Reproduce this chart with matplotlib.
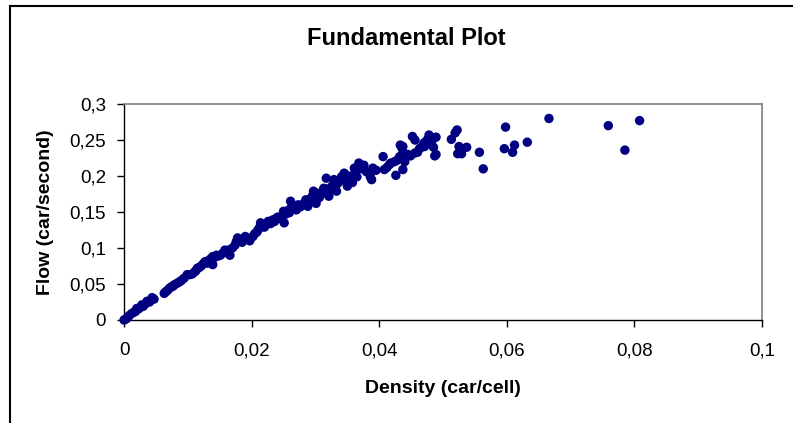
import matplotlib
matplotlib.use("Agg")
import matplotlib.pyplot as plt
from matplotlib.lines import Line2D

plt.rcParams['font.family'] = ['Liberation Sans', 'DejaVu Sans']

# density (car/cell), flow (car/second)
density = [
    0.0, 0.0002, 0.0004, 0.0006, 0.0008, 0.0012, 0.0016, 0.0018, 0.0020, 0.0022,
    0.0025, 0.0028, 0.0030, 0.0033, 0.0036, 0.0040, 0.0044, 0.0047,
    0.0063, 0.0065, 0.0068, 0.0071, 0.0074, 0.0077, 0.0079, 0.0083, 0.0087,
    0.0090, 0.0094, 0.0099, 0.0103, 0.0107, 0.0111, 0.0113, 0.0115, 0.0118,
    0.0121, 0.0124, 0.0127, 0.0130, 0.0133, 0.0136, 0.0139, 0.0139, 0.0142,
    0.0145, 0.0148, 0.0151, 0.0155, 0.0158, 0.0160, 0.0163, 0.0166, 0.0170,
    0.0174, 0.0176, 0.0178, 0.0182, 0.0185, 0.0190, 0.0193, 0.0197, 0.0202,
    0.0205, 0.0208, 0.0210, 0.0212, 0.0214, 0.0217, 0.0220, 0.0224, 0.0226,
    0.0230, 0.0233, 0.0236, 0.0238, 0.0241, 0.0245, 0.0250, 0.0251, 0.0253,
    0.0257, 0.0259, 0.0261, 0.0261, 0.0264, 0.0267, 0.0270, 0.0273, 0.0276,
    0.0280, 0.0283, 0.0285, 0.0288, 0.0291, 0.0293, 0.0295, 0.0297, 0.0299,
    0.0301, 0.0303, 0.0306, 0.0309, 0.0312, 0.0313, 0.0317, 0.0318, 0.0321,
    0.0322, 0.0326, 0.0329, 0.0331, 0.0333, 0.0335, 0.0338, 0.0341, 0.0343,
    0.0345, 0.0347, 0.0350, 0.0351, 0.0353, 0.0356, 0.0358, 0.0361, 0.0363,
    0.0365, 0.0368, 0.0370, 0.0373, 0.0376, 0.0380, 0.0386, 0.0388, 0.0390,
    0.0395, 0.0406, 0.0408, 0.0412, 0.0416, 0.0418, 0.0424, 0.0426, 0.0428,
    0.0432, 0.0433, 0.0436, 0.0437, 0.0437, 0.0440, 0.0440, 0.0445, 0.0449,
    0.0452, 0.0456, 0.0456, 0.0460, 0.0463, 0.0466, 0.0470, 0.0471, 0.0475,
    0.0478, 0.0478, 0.0483, 0.0485, 0.0487, 0.0489, 0.0489, 0.0513, 0.0519,
    0.0522, 0.0523, 0.0525, 0.0529, 0.0537, 0.0557, 0.0563, 0.0596, 0.0598,
    0.0609, 0.0612, 0.0632, 0.0666, 0.0759, 0.0785, 0.0808,
]
flow = [
    0.000, 0.001, 0.002, 0.004, 0.006, 0.009, 0.011, 0.012, 0.016, 0.015,
    0.017, 0.021, 0.019, 0.022, 0.026, 0.025, 0.031, 0.029,
    0.037, 0.039, 0.041, 0.044, 0.046, 0.047, 0.049, 0.051, 0.053,
    0.055, 0.058, 0.063, 0.063, 0.064, 0.067, 0.069, 0.072, 0.073,
    0.075, 0.078, 0.081, 0.079, 0.083, 0.085, 0.088, 0.077, 0.087,
    0.090, 0.089, 0.090, 0.093, 0.097, 0.095, 0.097, 0.090, 0.100,
    0.104, 0.109, 0.114, 0.111, 0.108, 0.116, 0.113, 0.110, 0.116,
    0.120, 0.122, 0.125, 0.128, 0.135, 0.131, 0.129, 0.133, 0.137,
    0.134, 0.139, 0.137, 0.141, 0.143, 0.141, 0.151, 0.135, 0.147,
    0.152, 0.149, 0.165, 0.155, 0.158, 0.156, 0.153, 0.160, 0.157,
    0.160, 0.163, 0.167, 0.158, 0.165, 0.169, 0.172, 0.179, 0.166,
    0.162, 0.176, 0.170, 0.175, 0.178, 0.183, 0.197, 0.182, 0.172,
    0.180, 0.186, 0.195, 0.184, 0.179, 0.190, 0.193, 0.199, 0.196,
    0.204, 0.202, 0.186, 0.196, 0.192, 0.200, 0.191, 0.211, 0.206,
    0.199, 0.218, 0.213, 0.210, 0.215, 0.206, 0.199, 0.195, 0.211,
    0.208, 0.227, 0.209, 0.212, 0.216, 0.218, 0.220, 0.201, 0.222,
    0.227, 0.243, 0.238, 0.209, 0.241, 0.220, 0.226, 0.230, 0.228,
    0.255, 0.250, 0.232, 0.233, 0.238, 0.240, 0.246, 0.241, 0.250,
    0.257, 0.246, 0.250, 0.240, 0.228, 0.254, 0.230, 0.251, 0.260,
    0.264, 0.231, 0.241, 0.231, 0.240, 0.233, 0.210, 0.238, 0.268,
    0.233, 0.243, 0.247, 0.280, 0.270, 0.236, 0.277,
]

x_ticks = [0, 0.02, 0.04, 0.06, 0.08, 0.1]
x_labels = ['0', '0,02', '0,04', '0,06', '0,08', '0,1']
y_ticks = [0, 0.05, 0.1, 0.15, 0.2, 0.25, 0.3]
y_labels = ['0', '0,05', '0,1', '0,15', '0,2', '0,25', '0,3']

fig = plt.figure(figsize=(7.93, 4.23), dpi=100)
ax = fig.add_axes([0.1564, 0.2435, 0.8046, 0.5105])

ax.scatter(density, flow, s=46, color='#000080', edgecolors='none',
           clip_on=False, zorder=3)

ax.set_xlim(0, 0.1)
ax.set_ylim(0, 0.3)
ax.set_xticks(x_ticks)
ax.set_xticklabels(x_labels)
ax.set_yticks(y_ticks)
ax.set_yticklabels(y_labels)
ax.tick_params(direction='out', length=5, width=1, labelsize=13.5)
ax.tick_params(axis='x', pad=11)
ax.tick_params(axis='y', pad=8)

for side in ['left', 'bottom']:
    ax.spines[side].set_color('black')
    ax.spines[side].set_linewidth(1)
for side in ['top', 'right']:
    ax.spines[side].set_color('#808080')
    ax.spines[side].set_linewidth(1.2)

ax.set_xlabel('Density (car/cell)', fontsize=14, fontweight='bold', labelpad=15)
ax.set_ylabel('Flow (car/second)', fontsize=14, fontweight='bold', labelpad=11)

fig.text(0.513, 0.910, 'Fundamental Plot', ha='center', va='center',
         fontsize=17, fontweight='bold')

# outer chart border (only left and top visible in the crop)
fig.add_artist(Line2D([10 / 793, 10 / 793], [0, 1 - 6 / 423],
                      transform=fig.transFigure, color='black', lw=1.5))
fig.add_artist(Line2D([10 / 793, 1], [1 - 6 / 423, 1 - 6 / 423],
                      transform=fig.transFigure, color='black', lw=1.5))

fig.savefig('out.png', dpi=100)
